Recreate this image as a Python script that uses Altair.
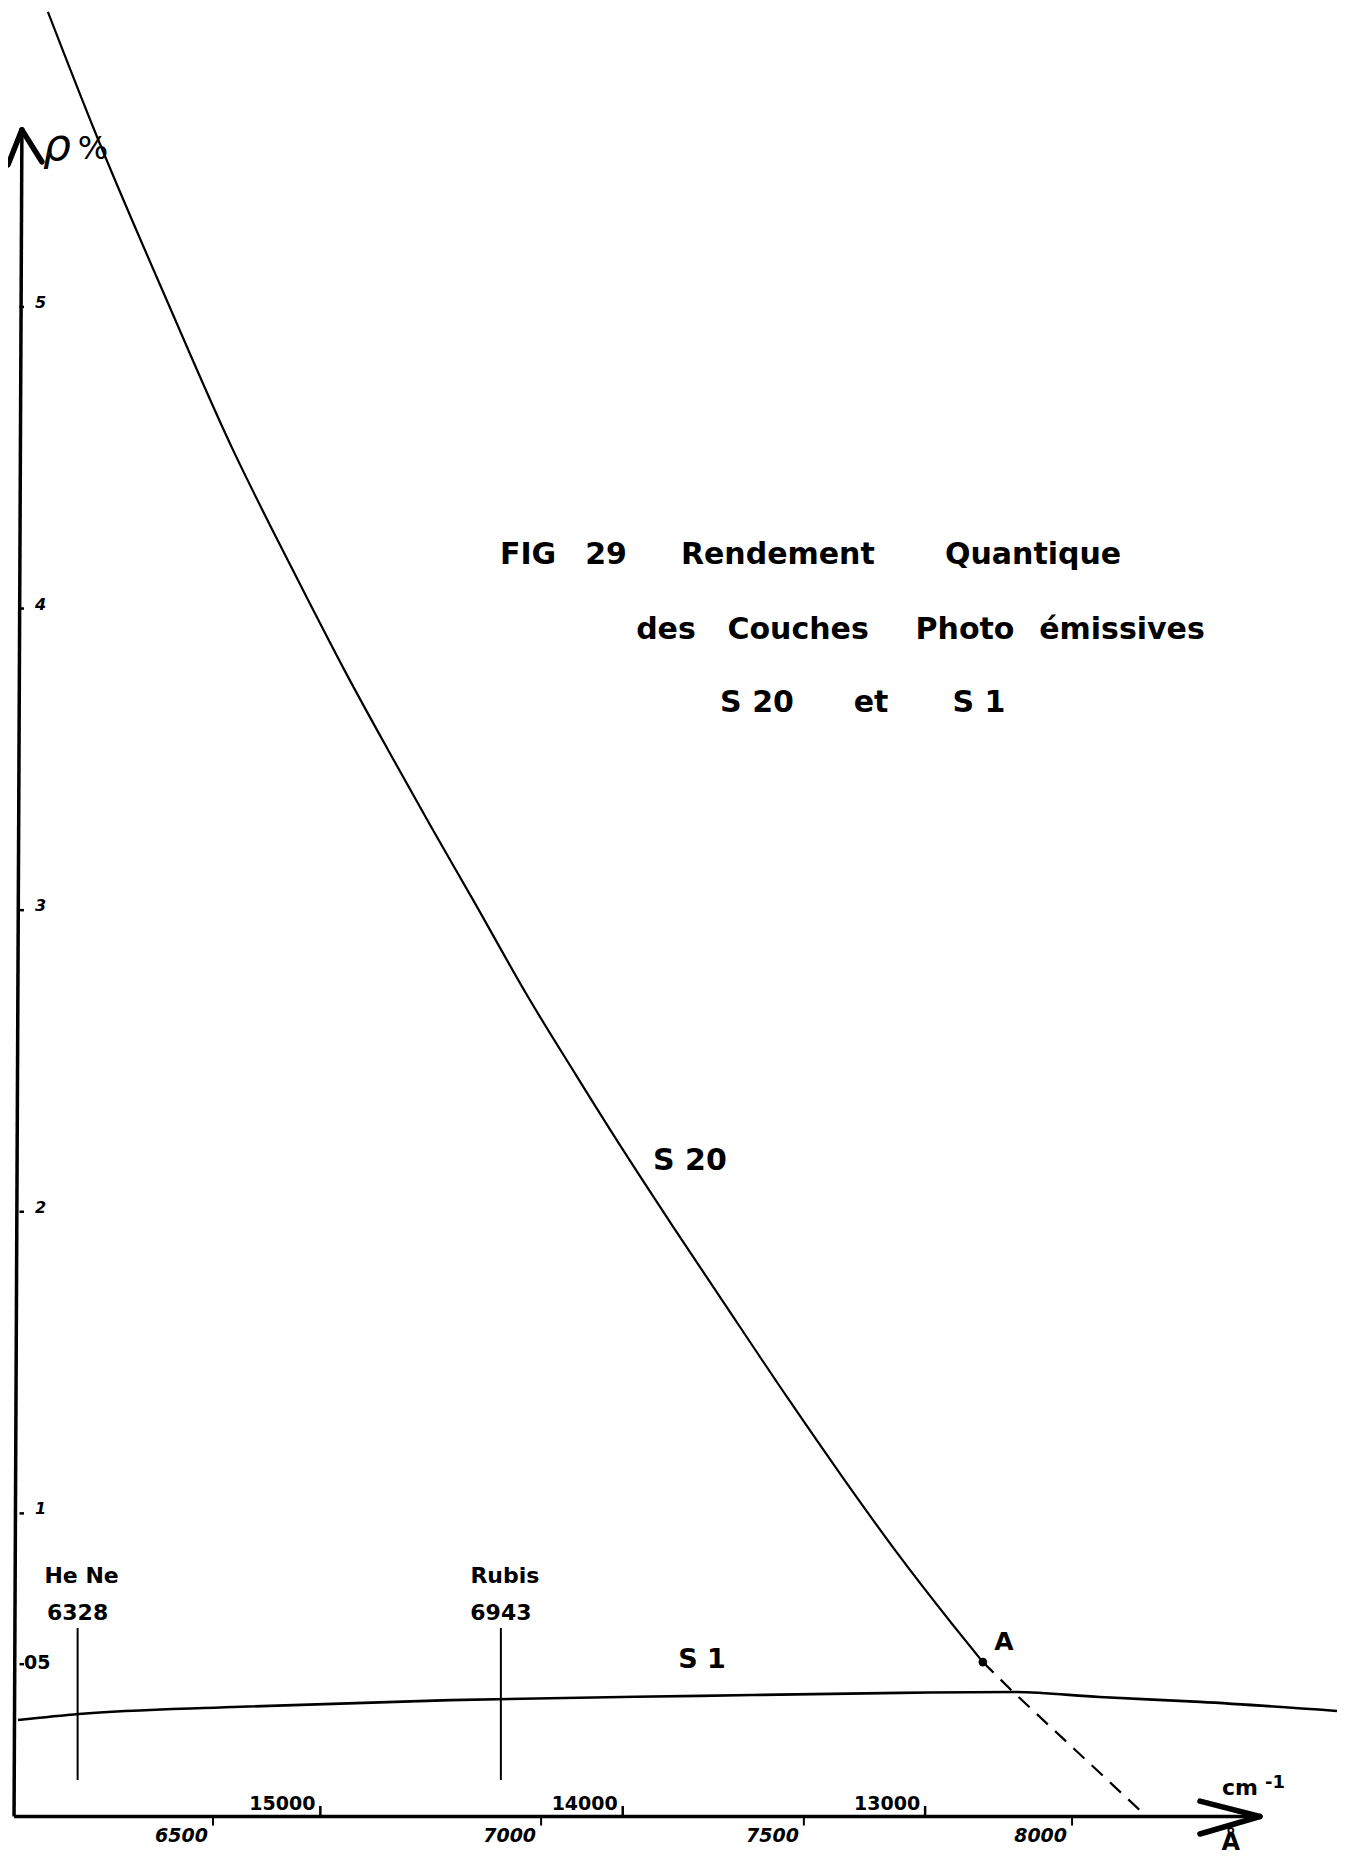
import altair as alt
import pandas as pd

# ---------------- data ----------------
# S20 curve : wavenumber (cm-1) / quantum efficiency rho (%)
s20_wavenumber = [15901, 15745, 15504, 15289, 15167, 15041, 14912, 14776, 14637, 14495,
                  14307, 14155, 13999, 13837, 13672, 13450, 13278, 13100, 12908, 12809]
s20_rho = [5.978, 5.580, 5.013, 4.526, 4.277, 4.029, 3.780, 3.531, 3.282, 3.034,
           2.702, 2.454, 2.205, 1.956, 1.708, 1.376, 1.127, 0.879, 0.630, 0.507]
# dashed extrapolation of S20 beyond point A
s20_ext_wavenumber = [12809, 12709, 12273]
s20_ext_rho = [0.507, 0.408, 0.0]
# S1 curve
s1_wavenumber = [16000, 15798, 15289, 14571, 13745, 13083, 12709, 12422, 12091, 11638]
s1_rho = [0.315, 0.335, 0.358, 0.381, 0.395, 0.405, 0.408, 0.391, 0.375, 0.345]
# point A
point_a_wavenumber = [12809]
point_a_rho = [0.507]
# laser lines
laser_names = ["He Ne", "Rubis"]
laser_wavelength = [6328, 6943]
laser_labels = ["6328", "6943"]
# axes ticks
cm_ticks = [15000, 14000, 13000]
cm_tick_labels = ["15000", "14000", "13000"]
angstrom_tick_labels = ["6500", "7000", "7500", "8000"]
angstrom_tick_wavenumber = [15355, 14270, 13401, 12514]
rho_ticks = [5, 4, 3, 2, 1]
rho_tick_labels = ["5", "4", "3", "2", "1"]
rho_half_tick = [0.5]
rho_half_label = ["05"]
# title
title_words = ["FIG", "29", "Rendement", "Quantique",
               "des", "Couches", "Photo", "émissives",
               "S 20", "et", "S 1"]
title_word_wavenumber = [14313, 14055, 13487, 12643,
                         13857, 13420, 12868, 12349,
                         13556, 13179, 12822]
title_word_rho = [4.148, 4.148, 4.148, 4.148,
                  3.899, 3.899, 3.899, 3.899,
                  3.657, 3.657, 3.657]

# ---------------- scales ----------------
XS = alt.Scale(domain=[11618, 16033], reverse=True, nice=False, zero=False)
YS = alt.Scale(domain=[0, 5.991], nice=False, zero=False)
FONT = "DejaVu Sans"


def X(f="k"):
    return alt.X(f"{f}:Q", scale=XS, axis=None)


def Y(f="r"):
    return alt.Y(f"{f}:Q", scale=YS, axis=None)


def text_layer(df, size, align="center", weight="bold", style="normal", dx=0, dy=0, font=FONT):
    return alt.Chart(df).mark_text(
        font=font, fontSize=size, fontWeight=weight, fontStyle=style, align=align,
        baseline="alphabetic", dx=dx, dy=dy, color="black"
    ).encode(x=X(), y=Y(), text="t:N")


# curves
s20 = alt.Chart(pd.DataFrame({"k": s20_wavenumber, "r": s20_rho})).mark_line(
    color="black", strokeWidth=2.2, interpolate="monotone").encode(x=X(), y=Y())
s20_ext = alt.Chart(pd.DataFrame({"k": s20_ext_wavenumber, "r": s20_ext_rho})).mark_line(
    color="black", strokeWidth=2.2, strokeDash=[15, 10]).encode(x=X(), y=Y())
s1 = alt.Chart(pd.DataFrame({"k": s1_wavenumber, "r": s1_rho})).mark_line(
    color="black", strokeWidth=2.6, interpolate="monotone").encode(x=X(), y=Y())
pt_a = alt.Chart(pd.DataFrame({"k": point_a_wavenumber, "r": point_a_rho})).mark_point(
    filled=True, color="black", size=75, opacity=1).encode(x=X(), y=Y())

# axes lines (in data units)
axis_df = pd.DataFrame({
    "k": [15987, 16013],
    "r": [5.587, -0.005],
    "k2": [16013, 11893],
    "r2": [-0.005, -0.005],
})
axes = alt.Chart(axis_df).mark_rule(color="black", strokeWidth=3.5).encode(
    x=X(), y=Y(), x2="k2:Q", y2="r2:Q")
arrow_df = pd.DataFrame({
    "k": [16033, 15921, 12091, 12091],
    "r": [5.471, 5.481, 0.046, -0.063],
    "k2": [15987, 15987, 11893, 11893],
    "r2": [5.587, 5.587, -0.005, -0.005],
})
arrows = alt.Chart(arrow_df).mark_rule(color="black", strokeWidth=5.5, strokeCap="round").encode(
    x=X(), y=Y(), x2="k2:Q", y2="r2:Q")

# tick marks
ytick_df = pd.DataFrame({"r": rho_ticks + rho_half_tick})
yticks = alt.Chart(ytick_df).mark_rule(color="black", strokeWidth=2.5).encode(
    x=alt.X("a:Q", scale=XS, axis=None), x2="b:Q", y=Y()).transform_calculate(a="15995", b="15980")
cm_tick_df = pd.DataFrame({"k": cm_ticks})
cmticks = alt.Chart(cm_tick_df).mark_rule(color="black", strokeWidth=2.5).encode(
    x=X(), y=alt.Y("a:Q", scale=YS, axis=None), y2="b:Q").transform_calculate(a="0", b="0.03")
ang_tick_df = pd.DataFrame({"k": angstrom_tick_wavenumber})
angticks = alt.Chart(ang_tick_df).mark_rule(color="black", strokeWidth=2).encode(
    x=X(), y=alt.Y("a:Q", scale=YS, axis=None), y2="b:Q").transform_calculate(a="0", b="-0.035")

# laser lines
laser_df = pd.DataFrame({"k": [1e8 / w for w in laser_wavelength]})
lasers = alt.Chart(laser_df).mark_rule(color="black", strokeWidth=2).encode(
    x=X(), y=alt.Y("a:Q", scale=YS, axis=None), y2="b:Q").transform_calculate(a="0.116", b="0.620")

# ---------------- text ----------------
texts = [
    text_layer(pd.DataFrame({"k": title_word_wavenumber, "r": title_word_rho, "t": title_words}), 30),
    text_layer(pd.DataFrame({"k": [13778], "r": [2.139], "t": ["S 20"]}), 30),
    text_layer(pd.DataFrame({"k": [13738], "r": [0.487], "t": ["S 1"]}), 27),
    text_layer(pd.DataFrame({"k": [12739], "r": [0.547], "t": ["A"]}), 25),
    text_layer(pd.DataFrame({"k": [1e8 / w for w in laser_wavelength], "r": [0.769, 0.769],
                             "t": laser_names}), 22, dx=4),
    text_layer(pd.DataFrame({"k": [1e8 / w for w in laser_wavelength], "r": [0.647, 0.647],
                             "t": laser_labels}), 22),
    text_layer(pd.DataFrame({"k": cm_ticks, "r": [0.017] * 3, "t": cm_tick_labels}), 19,
               align="right", dx=-5),
    text_layer(pd.DataFrame({"k": angstrom_tick_wavenumber, "r": [-0.09] * 4,
                             "t": angstrom_tick_labels}), 19, align="right", dx=-5,
               style="italic"),
    text_layer(pd.DataFrame({"k": [16000] * 5, "r": rho_ticks, "t": rho_tick_labels}), 16,
               align="left", dx=17, dy=1, style="italic"),
    text_layer(pd.DataFrame({"k": [16000], "r": rho_half_tick, "t": rho_half_label}), 19,
               align="left", dx=6, dy=5),
    text_layer(pd.DataFrame({"k": [12018], "r": [0.066], "t": ["cm"]}), 22, align="left"),
    text_layer(pd.DataFrame({"k": [11876], "r": [0.090], "t": ["-1"]}), 18, align="left"),
    text_layer(pd.DataFrame({"k": [11989], "r": [-0.116], "t": ["Å"]}), 24),
    text_layer(pd.DataFrame({"k": [15917], "r": [5.487], "t": ["ρ"]}), 44, align="left",
               weight="normal", style="italic"),
    text_layer(pd.DataFrame({"k": [15802], "r": [5.49], "t": ["%"]}), 32, align="left",
               weight="normal"),
]

chart = alt.layer(
    axes, arrows, yticks, cmticks, angticks, lasers, s1, s20, s20_ext, pt_a, *texts
).properties(
    width=1335, height=1807,
    padding={"left": 0, "top": 0, "right": 0, "bottom": 40},
    autosize=alt.AutoSizeParams(type="none"),
    background="white",
).configure_view(stroke=None)

chart.save("out.html", embed_options={"renderer": "svg", "actions": False})
